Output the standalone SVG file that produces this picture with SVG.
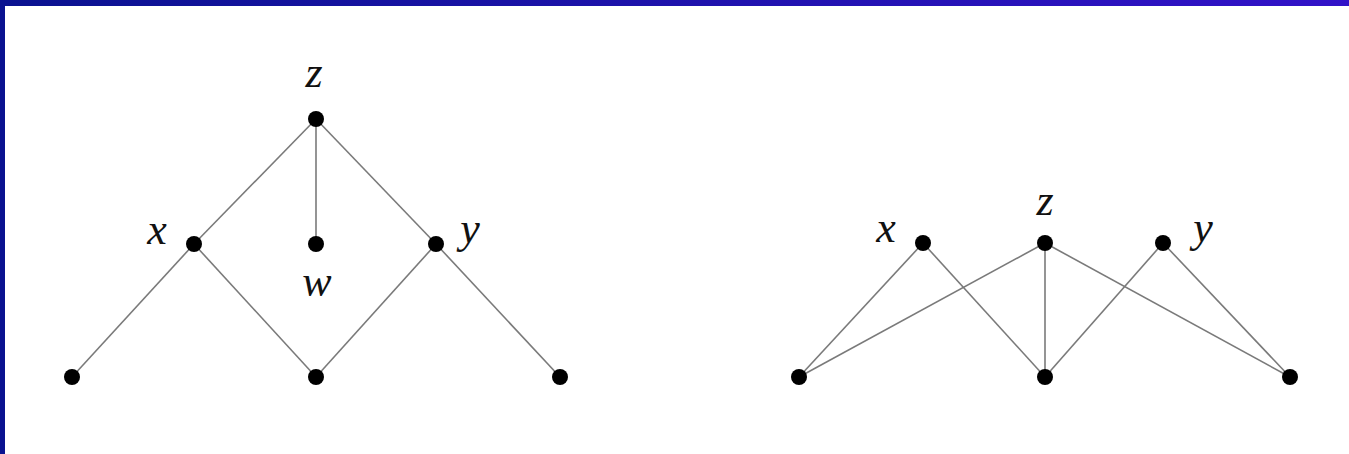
<svg xmlns="http://www.w3.org/2000/svg" width="1349" height="454" viewBox="0 0 1349 454">
<defs>
<linearGradient id="bar" x1="0" y1="0" x2="1" y2="0">
<stop offset="0" stop-color="#0a1290"/>
<stop offset="1" stop-color="#3212c8"/>
</linearGradient>
<style>
.e{stroke:#7a7a7a;stroke-width:1.6;fill:none}
.n{fill:#000}
.l{font-family:"Liberation Serif",serif;font-style:italic;font-size:44px;fill:#111}
</style>
</defs>
<rect width="1349" height="454" fill="#fff"/>
<rect x="0" y="0" width="1349" height="6" fill="url(#bar)"/>
<rect x="0" y="0" width="5" height="454" fill="#0a1290"/>
<g id="connectors">
<line class="e" x1="316" y1="119" x2="194" y2="244"/>
<line class="e" x1="316" y1="119" x2="316" y2="244"/>
<line class="e" x1="316" y1="119" x2="436" y2="244"/>
<line class="e" x1="194" y1="244" x2="72" y2="377"/>
<line class="e" x1="194" y1="244" x2="316" y2="377"/>
<line class="e" x1="436" y1="244" x2="316" y2="377"/>
<line class="e" x1="436" y1="244" x2="560" y2="377"/>
<line class="e" x1="923" y1="243" x2="799" y2="377"/>
<line class="e" x1="923" y1="243" x2="1045" y2="377"/>
<line class="e" x1="1045" y1="243" x2="799" y2="377"/>
<line class="e" x1="1045" y1="243" x2="1045" y2="377"/>
<line class="e" x1="1045" y1="243" x2="1290" y2="377"/>
<line class="e" x1="1163" y1="243" x2="1045" y2="377"/>
<line class="e" x1="1163" y1="243" x2="1290" y2="377"/>
</g>
<g id="L-z"><circle class="n" cx="316" cy="119" r="8"/><text class="l" x="314" y="87" text-anchor="middle">z</text></g>
<g id="L-x"><circle class="n" cx="194" cy="244" r="8"/><text class="l" x="157" y="244" text-anchor="middle">x</text></g>
<g id="L-w"><circle class="n" cx="316" cy="244" r="8"/><text class="l" x="317" y="296" text-anchor="middle">w</text></g>
<g id="L-y"><circle class="n" cx="436" cy="244" r="8"/><text class="l" x="470" y="243" text-anchor="middle">y</text></g>
<g id="L-b1"><circle class="n" cx="72" cy="377" r="8"/></g>
<g id="L-b2"><circle class="n" cx="316" cy="377" r="8"/></g>
<g id="L-b3"><circle class="n" cx="560" cy="377" r="8"/></g>
<g id="R-x"><circle class="n" cx="923" cy="243" r="8"/><text class="l" x="886" y="242" text-anchor="middle">x</text></g>
<g id="R-z"><circle class="n" cx="1045" cy="243" r="8"/><text class="l" x="1045" y="215" text-anchor="middle">z</text></g>
<g id="R-y"><circle class="n" cx="1163" cy="243" r="8"/><text class="l" x="1203" y="242" text-anchor="middle">y</text></g>
<g id="R-b1"><circle class="n" cx="799" cy="377" r="8"/></g>
<g id="R-b2"><circle class="n" cx="1045" cy="377" r="8"/></g>
<g id="R-b3"><circle class="n" cx="1290" cy="377" r="8"/></g>
</svg>
